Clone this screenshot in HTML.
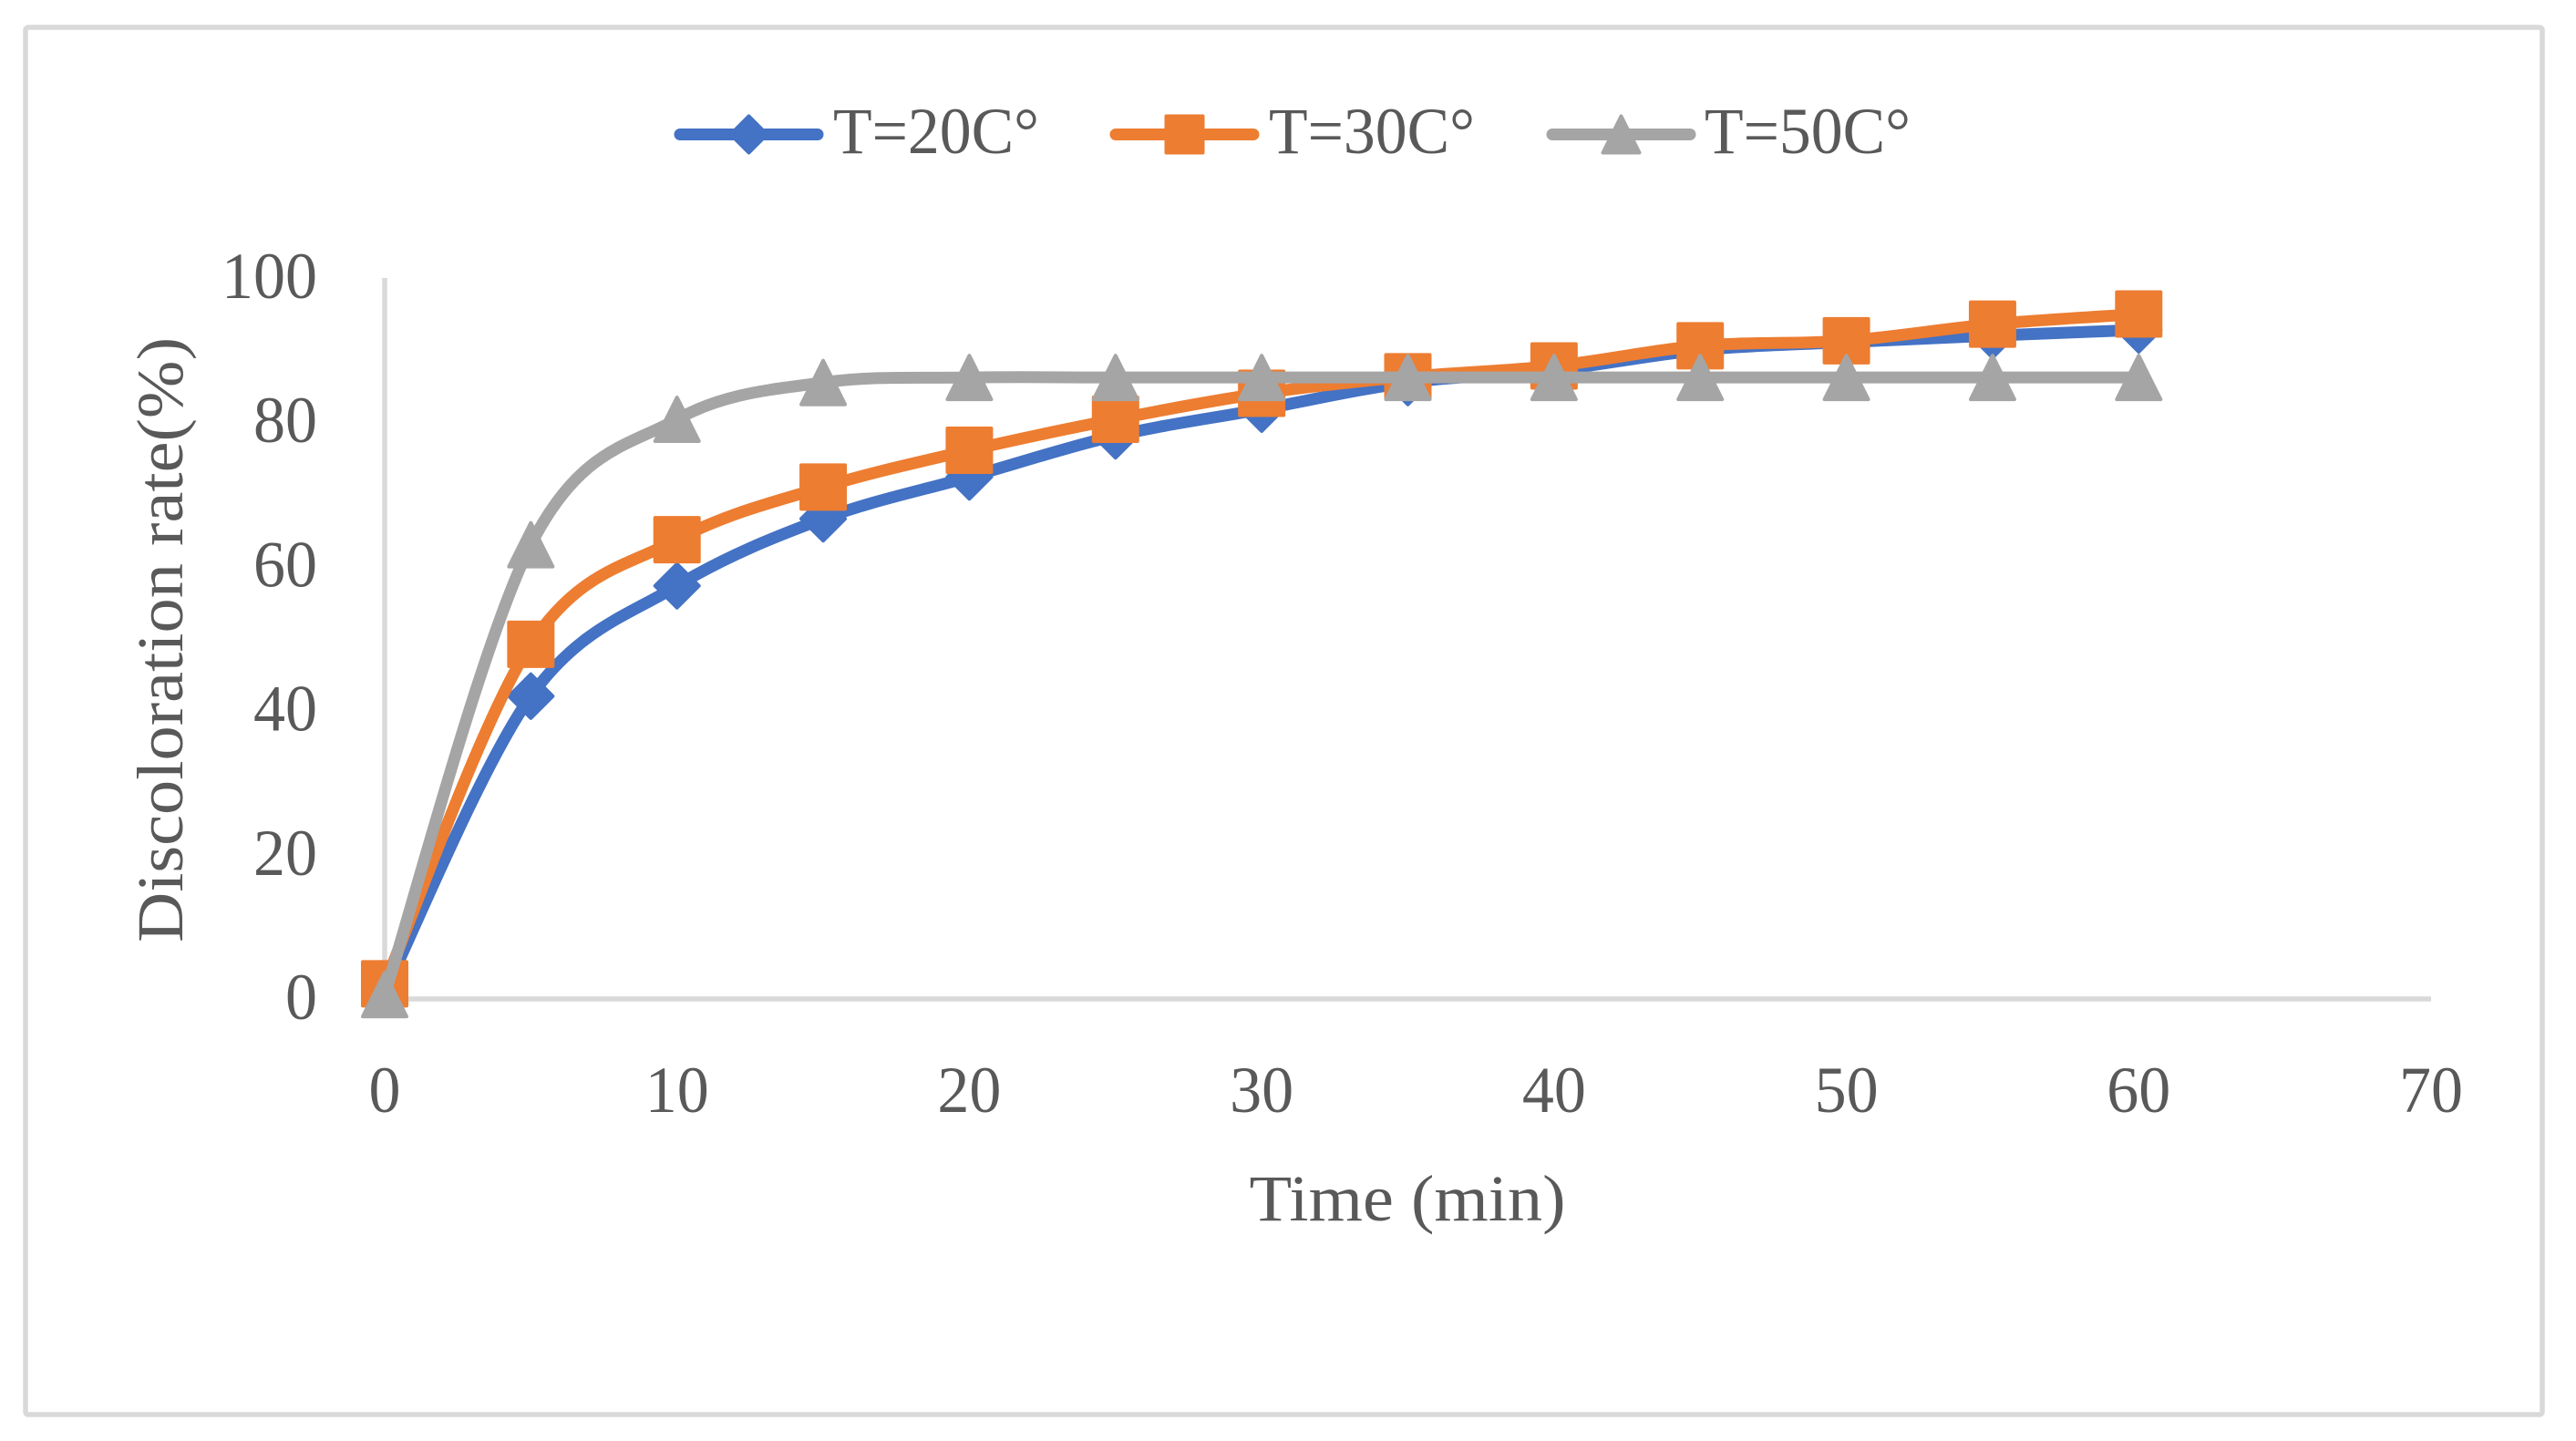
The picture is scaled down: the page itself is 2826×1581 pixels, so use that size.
<!DOCTYPE html>
<html>
<head>
<meta charset="utf-8">
<title>Discoloration rate over time</title>
<style>
  html, body { margin: 0; padding: 0; background: #fff; }
  svg { display: block; }
  text { font-family: "Liberation Serif", serif; fill: #595959; font-size: 72px; }
</style>
</head>
<body>
<svg id="chart" xmlns="http://www.w3.org/2000/svg" width="2826" height="1581" viewBox="0 0 2826 1581">
  <rect x="28" y="30" width="2761" height="1522" rx="3" fill="#fff" stroke="#d9d9d9" stroke-width="5.5"/>
  <g id="axes"></g>
  <g id="series"></g>
  <g id="legend"></g>
  <text x="1544" y="1339" text-anchor="middle" textLength="347" lengthAdjust="spacingAndGlyphs">Time (min)</text>
  <text transform="translate(200 702) rotate(-90)" text-anchor="middle" textLength="664" lengthAdjust="spacingAndGlyphs">Discoloration rate(%)</text>
</svg>
<script>
const times = [0, 5, 10, 15, 20, 25, 30, 35, 40, 45, 50, 55, 60];
const values20 = [1, 42, 57.3, 66.6, 72.4, 78.1, 81.8, 85.5, 87.2, 90, 91.1, 92, 92.8];
const values30 = [2.1, 49.2, 63.7, 71, 76.1, 80.4, 84, 86.3, 87.8, 90.6, 91.3, 93.6, 95];
const values50 = [0.6, 63, 80.4, 85.5, 86.2, 86.2, 86.2, 86.2, 86.2, 86.2, 86.2, 86.2, 86.2];
const xTicks = [0, 10, 20, 30, 40, 50, 60, 70];
const yTicks = [0, 20, 40, 60, 80, 100];
const seriesNames = ['T=20C°', 'T=30C°', 'T=50C°'];

const NS = 'http://www.w3.org/2000/svg';
const xScale = v => 422 + v * (2667 - 422) / 70;
const yScale = v => 1096 - v * (1096 - 305) / 100;

function make(tag, parent, attrs) {
  const el = document.createElementNS(NS, tag);
  for (const k in attrs) el.setAttribute(k, attrs[k]);
  parent.appendChild(el);
  return el;
}

function markerShape(kind, parent, cx, cy, size, color) {
  const h = size / 2 - 2;
  const common = { fill: color, stroke: color, 'stroke-width': 4, 'stroke-linejoin': 'round' };
  let pts;
  if (kind === 'diamond') pts = [[cx, cy - h], [cx + h, cy], [cx, cy + h], [cx - h, cy]];
  if (kind === 'square') pts = [[cx - h, cy - h], [cx + h, cy - h], [cx + h, cy + h], [cx - h, cy + h]];
  if (kind === 'triangle') pts = [[cx, cy - h], [cx + h, cy + h], [cx - h, cy + h]];
  return make('polygon', parent, Object.assign({ points: pts.map(p => p.join(',')).join(' ') }, common));
}

function smoothPath(points) {
  let d = 'M' + points[0][0] + ' ' + points[0][1];
  for (let i = 0; i < points.length - 1; i++) {
    const p0 = points[Math.max(i - 1, 0)];
    const p1 = points[i];
    const p2 = points[i + 1];
    const p3 = points[Math.min(i + 2, points.length - 1)];
    const c1x = p1[0] + (p2[0] - p0[0]) / 6;
    const c1y = p1[1] + (p2[1] - p0[1]) / 6;
    const c2x = p2[0] - (p3[0] - p1[0]) / 6;
    const c2y = p2[1] - (p3[1] - p1[1]) / 6;
    d += ' C' + c1x + ' ' + c1y + ' ' + c2x + ' ' + c2y + ' ' + p2[0] + ' ' + p2[1];
  }
  return d;
}

const axes = document.getElementById('axes');
const yAxisLine = make('line', axes, { x1: xScale(0), x2: xScale(0), y1: yScale(100), y2: yScale(0), stroke: '#d9d9d9', 'stroke-width': 5.5 });


const xAxisLine = make('line', axes, { x1: xScale(0), x2: xScale(70), y1: yScale(0), y2: yScale(0), stroke: '#d9d9d9', 'stroke-width': 5.5 });



xTicks.forEach(t => {
  const s = String(t);
  const el = make('text', axes, { x: xScale(t), y: yScale(0) + 124, 'text-anchor': 'middle', textLength: s.length * 35, lengthAdjust: 'spacingAndGlyphs' });
  el.textContent = s;
  
  
});
yTicks.forEach(t => {
  const s = String(t);
  const el = make('text', axes, { x: 348, y: yScale(t) + 22, 'text-anchor': 'end', textLength: s.length * 35, lengthAdjust: 'spacingAndGlyphs' });
  el.textContent = s;
  
  
});

const seriesGroup = document.getElementById('series');
const kinds = ['diamond', 'square', 'triangle'];
const colors = ['#4472c4', '#ed7d31', '#a5a5a5'];
[values20, values30, values50].forEach((vals, si) => {
  const g = make('g', seriesGroup, {});
  
  
  const pts = vals.map((v, i) => [xScale(times[i]), yScale(v)]);
  const line = make('path', g, { d: smoothPath(pts), fill: 'none', stroke: colors[si], 'stroke-width': 13, 'stroke-linecap': 'round', 'stroke-linejoin': 'round' });
  
  
  pts.forEach(p => {
    const m = markerShape(kinds[si], g, p[0], p[1], 52, colors[si]);
    
    
  });
});

const legend = document.getElementById('legend');
const legendLineStarts = [740, 1218, 1697];
const legendTextStarts = [914, 1392, 1870];
seriesNames.forEach((name, i) => {
  const g = make('g', legend, {});
  
  
  const x0 = legendLineStarts[i];
  const ln = make('line', g, { x1: x0 + 6, x2: x0 + 157, y1: 147.5, y2: 147.5, stroke: colors[i], 'stroke-width': 13, 'stroke-linecap': 'round' });
  
  
  const mk = markerShape(kinds[i], g, x0 + 81.5, 147.5, 44, colors[i]);
  
  
  const tx = make('text', g, { x: legendTextStarts[i], y: 168, textLength: 226, lengthAdjust: 'spacingAndGlyphs' });
  tx.textContent = name;
  
  
});
</script>
</body>
</html>
